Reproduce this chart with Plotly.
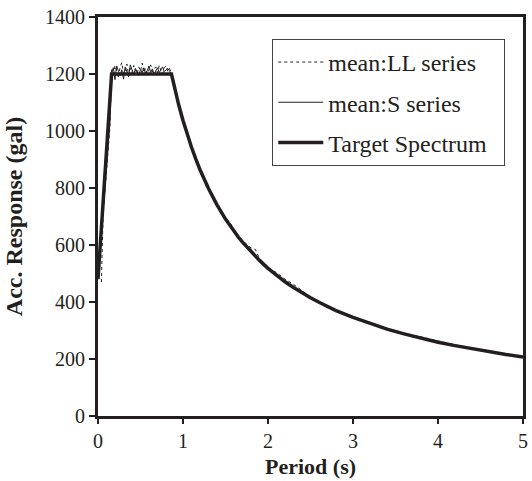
import plotly.graph_objects as go

# ---- data ----
plateau_period = [0.16, 0.18, 0.20, 0.22, 0.24, 0.26, 0.28, 0.30, 0.32, 0.34, 0.36, 0.38,
                  0.40, 0.42, 0.44, 0.46, 0.48, 0.50, 0.52, 0.54, 0.56, 0.58, 0.60, 0.62,
                  0.64, 0.66, 0.68, 0.70, 0.72, 0.74, 0.76, 0.78, 0.80, 0.82, 0.84, 0.86]
decay_period = [0.90, 0.95, 1.00, 1.05, 1.10, 1.15, 1.20, 1.30, 1.40, 1.50, 1.55, 1.60,
                1.65, 1.70, 1.80, 1.85, 1.90, 2.00, 2.10, 2.20, 2.30, 2.40, 2.50, 2.60,
                2.80, 3.00, 3.20, 3.40, 3.60, 3.80, 4.00, 4.20, 4.40, 4.60, 4.80, 5.00]

ll_rise_period = [0.04, 0.05, 0.06, 0.08, 0.10, 0.12, 0.14]
ll_rise = [470, 640, 705, 785, 860, 935, 1010]
ll_plateau = [1215, 1190, 1230, 1205, 1185, 1225, 1240, 1200, 1210, 1235, 1195, 1220,
              1205, 1230, 1215, 1200, 1225, 1210, 1238, 1205, 1220, 1200, 1215, 1232,
              1208, 1218, 1225, 1205, 1230, 1212, 1200, 1222, 1228, 1210, 1220, 1205]
ll_decay = [1150, 1090, 1045, 1000, 945, 905, 868, 800, 745, 696, 680, 655,
            630, 615, 590, 585, 553, 522, 503, 480, 462, 440, 418, 401,
            372, 348, 327, 308, 291, 277, 263, 250, 238, 227, 217, 208]

s_rise_period = [0.02, 0.04, 0.06, 0.08, 0.10, 0.12, 0.14]
s_rise = [580, 640, 715, 790, 870, 945, 1030]
s_plateau = [1200, 1222, 1180, 1228, 1210, 1195, 1215, 1182, 1225, 1205, 1190, 1232,
             1212, 1198, 1220, 1205, 1195, 1215, 1205, 1222, 1200, 1212, 1228, 1205,
             1218, 1200, 1210, 1222, 1205, 1215, 1225, 1208, 1215, 1220, 1212, 1200]
s_decay = [1150, 1088, 1040, 990, 945, 900, 862, 800, 743, 690, 670, 650,
           628, 609, 578, 561, 547, 520, 496, 473, 452, 433, 416, 400,
           371, 347, 325, 306, 289, 274, 260, 248, 236, 226, 216, 207]

target_period = [0.0, 0.16, 0.864] + decay_period
target_value = [480, 1200, 1200,
                1152, 1091, 1037, 987, 943, 902, 864, 798, 741, 691, 669, 648,
                628, 610, 576, 560, 546, 518, 494, 471, 451, 432, 415, 399,
                370, 346, 324, 305, 288, 273, 259, 247, 236, 225, 216, 207]

x_ticks = [0, 1, 2, 3, 4, 5]
y_ticks = [0, 200, 400, 600, 800, 1000, 1200, 1400]

INK = "#231f20"
FONT = "Liberation Serif"

fig = go.Figure()
fig.add_trace(go.Scatter(
    x=ll_rise_period + plateau_period + decay_period,
    y=ll_rise + ll_plateau + ll_decay,
    mode="lines", name="mean:LL series", legendgroup="a",
    line=dict(color=INK, width=1, dash="dot")))
fig.add_trace(go.Scatter(
    x=s_rise_period + plateau_period + decay_period,
    y=s_rise + s_plateau + s_decay,
    mode="lines", name="mean:S series", legendgroup="b",
    line=dict(color=INK, width=1)))
fig.add_trace(go.Scatter(
    x=target_period, y=target_value,
    mode="lines", name="Target Spectrum\u00a0\u00a0", legendgroup="c",
    line=dict(color=INK, width=3.5)))

fig.update_layout(
    width=532, height=481,
    margin=dict(l=98, r=4, t=17, b=65),
    paper_bgcolor="white", plot_bgcolor="white",
    font=dict(family=FONT, size=20, color=INK),
    showlegend=True,
    legend=dict(x=0.41, y=0.945, xanchor="left", yanchor="top",
                bgcolor="white", bordercolor="#444444", borderwidth=1,
                font=dict(family=FONT, size=24, color=INK),
                itemwidth=45,
                tracegroupgap=6, traceorder="grouped"),
    xaxis=dict(range=[0, 5], tickvals=x_ticks, ticktext=[str(v) for v in x_ticks],
               showgrid=False, zeroline=False, showline=True, linewidth=3,
               linecolor=INK, mirror=True, ticks="outside", ticklen=5,
               tickwidth=2, tickcolor=INK,
               tickfont=dict(family=FONT, size=20, color=INK),
               title=dict(text="<b>Period (s)</b>", standoff=8,
                          font=dict(family=FONT, size=22, color=INK))),
    yaxis=dict(range=[0, 1400], tickvals=y_ticks, ticktext=[str(v) for v in y_ticks],
               showgrid=False, zeroline=False, showline=True, linewidth=3,
               linecolor=INK, mirror=True, ticks="outside", ticklen=6,
               tickwidth=2, tickcolor=INK,
               tickfont=dict(family=FONT, size=20, color=INK),
               title=dict(text="<b>Acc. Response (gal)</b>", standoff=16,
                          font=dict(family=FONT, size=24, color=INK))),
)

fig.write_html("out.html")
